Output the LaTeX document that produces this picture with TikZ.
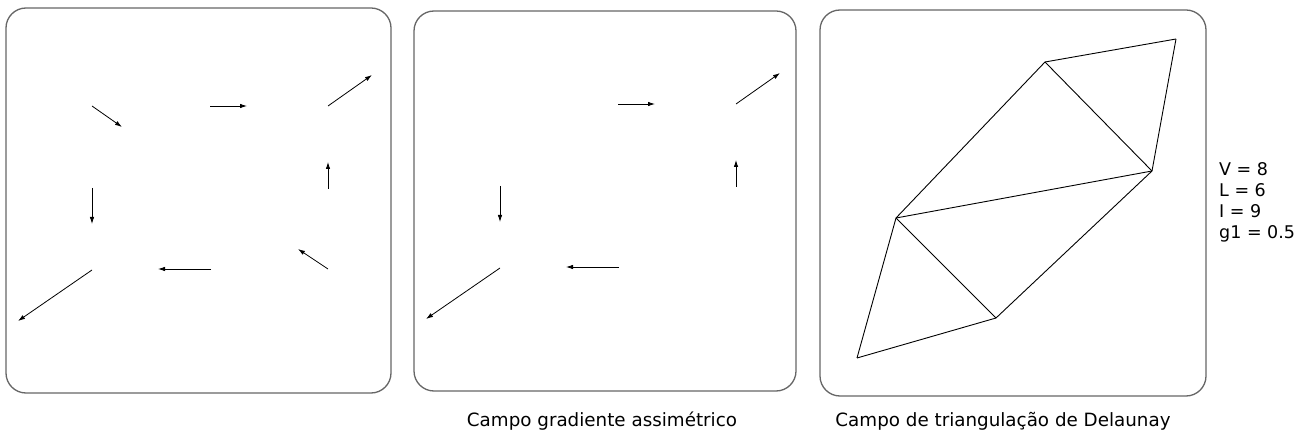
\documentclass[tikz,border=0pt]{standalone}
\usepackage{fontspec}
\setmainfont{DejaVu Sans}
\usetikzlibrary{positioning}
\usetikzlibrary{arrows.meta}

\tikzset{
  panel/.style={draw=black!60, line width=1.3pt, rounded corners=20pt},
  vec/.style={black, line width=0.8pt, -{Latex[length=7pt,width=4.5pt]}},
  tri/.style={black, line width=0.9pt},
  caption/.style={anchor=base, font=\fontsize{18.3}{22}\selectfont},
}

\begin{document}
\begin{tikzpicture}[x=1pt, y=-1pt]
  \useasboundingbox (0,0) rectangle (1302,438);
  \draw[panel] (6,8) rectangle (391,393);
  \draw[panel] (414,11) rectangle (796,391);
  \draw[panel] (820,10) rectangle (1206,396);

  % field in the first panel
  \foreach \sx/\sy/\ex/\ey [count=\i] in {92/106/122/127, 210/106/247/106, 328/106/372/75,
      92/188/92/224, 328/189/328/162, 92/270/18/321, 211/269/158/269, 328/269/298/249}
  {
    \coordinate (fs\i) at (\sx,\sy);
    \coordinate (fe\i) at (\ex,\ey);
    \draw[vec] (fs\i) -- (fe\i);
  }

  % same field, shifted, without two of its vectors
  \begin{scope}[shift={(408,-2)}]
    \foreach \sx/\sy/\ex/\ey [count=\i] in {210/106/247/106, 328/106/372/75,
        92/188/92/224, 328/189/328/162, 92/270/18/321, 211/269/158/269}
    {
      \coordinate (gs\i) at (\sx,\sy);
      \coordinate (ge\i) at (\ex,\ey);
      \draw[vec] (gs\i) -- (ge\i);
    }
  \end{scope}

  % triangulation
  \coordinate (A) at (1045,62);
  \coordinate (B) at (1176,39);
  \coordinate (C) at (1152,171);
  \coordinate (D) at (896,218);
  \coordinate (E) at (996,318);
  \coordinate (F) at (857,358);
  \foreach \u/\v in {A/B, B/C, A/C, A/D, D/C, D/E, C/E, D/F, F/E}
    \draw[tri] (\u) -- (\v);

  \node[caption] (cap2) at (602,427) {Campo gradiente assimétrico};
  \node[caption] (cap3) at (1003,427) {Campo de triangulação de Delaunay};
  \node[anchor=base west, align=left, inner sep=0pt,
        font=\fontsize{17.5}{21}\selectfont] (stats) at (1219,239)
        {V = 8\\L = 6\\I = 9\\g1 = 0.5};
\end{tikzpicture}
\end{document}
